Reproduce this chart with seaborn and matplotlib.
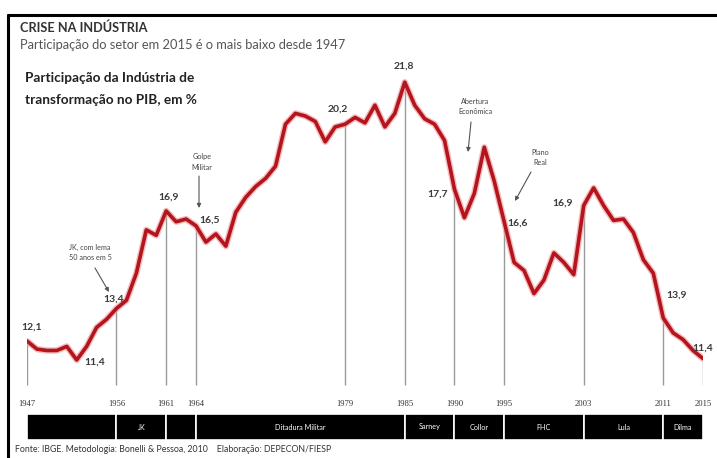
import matplotlib
matplotlib.use("Agg")
import matplotlib.pyplot as plt
from matplotlib.lines import Line2D
import numpy as np
import pandas as pd
import seaborn as sns

# ---------------- data ----------------
years = list(range(1947, 2016))
share = [12.1, 11.8, 11.75, 11.75, 11.9, 11.4, 11.9, 12.6, 12.9, 13.3,
         13.6, 14.6, 16.2, 16.0, 16.9, 16.5, 16.6, 16.35, 15.75, 16.05,
         15.6, 16.85, 17.4, 17.8, 18.1, 18.55, 20.1, 20.5, 20.4, 20.2,
         19.45, 20.0, 20.1, 20.35, 20.15, 20.8, 20.0, 20.5, 21.65, 20.8,
         20.3, 20.1, 19.5, 17.7, 16.65, 17.55, 19.25, 18.0, 16.5, 15.0,
         14.7, 13.85, 14.35, 15.35, 15.0, 14.55, 17.1, 17.75, 17.1, 16.55,
         16.6, 16.1, 15.1, 14.6, 12.95, 12.4, 12.15, 11.75, 11.45]

mark_years = [1947, 1956, 1961, 1964, 1979, 1985, 1990, 1995, 2003, 2011, 2015]
tick_labels = [str(y) for y in mark_years]

label_years = [1947, 1952, 1956, 1961, 1964, 1979, 1985, 1990, 1995, 2003, 2011, 2015]
label_texts = ["12,1", "11,4", "13,4", "16,9", "16,5", "20,2", "21,8", "17,7",
               "16,6", "16,9", "13,9", "11,4"]
label_offsets = [(5, 14), (18, -2), (-3, 9), (2, 14), (14, 6), (-7, 15), (-1, 16),
                 (-17, -5), (13, -1), (-21, 2), (13, 23), (0, 10)]

period_start = [1947, 1956, 1961, 1964, 1985, 1990, 1995, 2003, 2011]
period_end = [1956, 1961, 1964, 1985, 1990, 1995, 2003, 2011, 2015]
period_names = ["", "JK", "", "Ditadura Militar", "Sarney", "Collor", "FHC", "Lula", "Dilma"]

df = pd.DataFrame({"ano": years, "participacao": share})

# ---------------- style ----------------
sns.set_theme(style="white")
plt.rcParams["font.family"] = ["Lato", "DejaVu Sans"]

W, H = 717, 458
fig = plt.figure(figsize=(W / 100, H / 100), dpi=100)
fig.patch.set_facecolor("white")

def fp(px, py):
    return (px, H - py)

# pixel mapping used for axes layout
x0_px, x1_px = 27, 703
ax_bottom_px, ax_top_px = 390, 60
y_ref_px, y_ref_val, px_per_unit = 341, 12.1, 27.1
ymin = y_ref_val - (ax_bottom_px - y_ref_px) / px_per_unit
ymax = y_ref_val + (y_ref_px - ax_top_px) / px_per_unit

ax = fig.add_axes([x0_px / W, 1 - ax_bottom_px / H, (x1_px - x0_px) / W,
                   (ax_bottom_px - ax_top_px) / H])
ax.set_xlim(1947, 2015)
ax.set_ylim(ymin, ymax)
for s in ax.spines.values():
    s.set_visible(False)
ax.set_facecolor("none")

# vertical period lines
val_map = dict(zip(years, share))
line_bottom = y_ref_val - (385 - y_ref_px) / px_per_unit
ax.vlines(mark_years, line_bottom, [val_map[y] for y in mark_years],
          color="#9a9a9a", lw=1.0, zorder=1)

# curve with glow
sns.lineplot(data=df, x="ano", y="participacao", ax=ax, color="#f0a0a0",
             lw=4.6, alpha=0.7, zorder=2, legend=False)
sns.lineplot(data=df, x="ano", y="participacao", ax=ax, color="#b3141d",
             lw=2.6, zorder=3, legend=False)
for ln in ax.lines:
    ln.set_solid_joinstyle("round")
    ln.set_solid_capstyle("round")

ax.set_xlabel("")
ax.set_ylabel("")
ax.set_yticks([])
ax.set_xticks(mark_years)
ax.set_xticklabels(tick_labels, fontsize=6.2, color="#333333",
                   family=["Liberation Serif", "DejaVu Serif"])
ax.tick_params(axis="x", length=0, pad=7)

# value labels
for yr, txt, off in zip(label_years, label_texts, label_offsets):
    ax.annotate(txt, xy=(yr, val_map[yr]), xytext=off, textcoords="offset pixels",
                ha="center", va="center", fontsize=7.5, fontweight="bold",
                color="#3a3a3a", annotation_clip=False, zorder=5)

# event annotations
events = [
    ("JK, com lema\n50 anos em 5", (90, 252), (95, 268), (109, 292)),
    ("Golpe\nMilitar", (202, 162), (199, 176), (199, 208)),
    ("Abertura\nEconômica", (475, 107), (471, 122), (468, 152)),
    ("Plano\nReal", (540, 157), (531, 172), (515, 201)),
]
for txt, tpos, a0, a1 in events:
    fig.text(tpos[0] / W, 1 - tpos[1] / H, txt, ha="center", va="center",
             fontsize=5.2, color="#444444", linespacing=1.5)
    ax.annotate("", xy=fp(*a1), xycoords="figure pixels", xytext=fp(*a0),
                textcoords="figure pixels",
                arrowprops=dict(arrowstyle="-|>", color="#555555", lw=0.8,
                                mutation_scale=6, shrinkA=0, shrinkB=0))

# period bar
bx = fig.add_axes([x0_px / W, 1 - 440 / H, (x1_px - x0_px) / W, 26 / H])
bx.set_xlim(1947, 2015)
bx.set_ylim(0, 1)
bx.axis("off")
bx.barh([0.5] * len(period_start),
        [e - s for s, e in zip(period_start, period_end)],
        left=period_start, height=1.0, color="black", edgecolor="white", lw=1.2)
for s, e, name in zip(period_start, period_end, period_names):
    if name:
        bx.text((s + e) / 2, 0.5, name, ha="center", va="center",
                fontsize=5.2, color="white")

# titles
fig.text(20 / W, 1 - 28 / H, "CRISE NA INDÚSTRIA", ha="left", va="center",
         fontsize=9.2, fontweight="bold", color="#333333")
fig.text(20 / W, 1 - 45 / H,
         "Participação do setor em 2015 é o mais baixo desde 1947",
         ha="left", va="center", fontsize=9.3, color="#555555")
fig.text(25 / W, 1 - 78 / H, "Participação da Indústria de", ha="left",
         va="center", fontsize=9.8, fontweight="bold", color="#222222")
fig.text(25 / W, 1 - 100 / H, "transformação no PIB, em %", ha="left",
         va="center", fontsize=9.8, fontweight="bold", color="#222222")

# footer
fig.text(15 / W, 1 - 449 / H,
         "Fonte: IBGE. Metodologia: Bonelli & Pessoa, 2010    Elaboração: DEPECON/FIESP",
         ha="left", va="center", fontsize=6.3, color="#333333")

# frame lines
fig.add_artist(Line2D([8 / W, 1], [1 - 15 / H, 1 - 15 / H],
                      transform=fig.transFigure, color="black", lw=2.2))
fig.add_artist(Line2D([8 / W, 8 / W], [0, 1 - 15 / H],
                      transform=fig.transFigure, color="black", lw=2.2))

fig.savefig("out.png", dpi=100, facecolor="white")
